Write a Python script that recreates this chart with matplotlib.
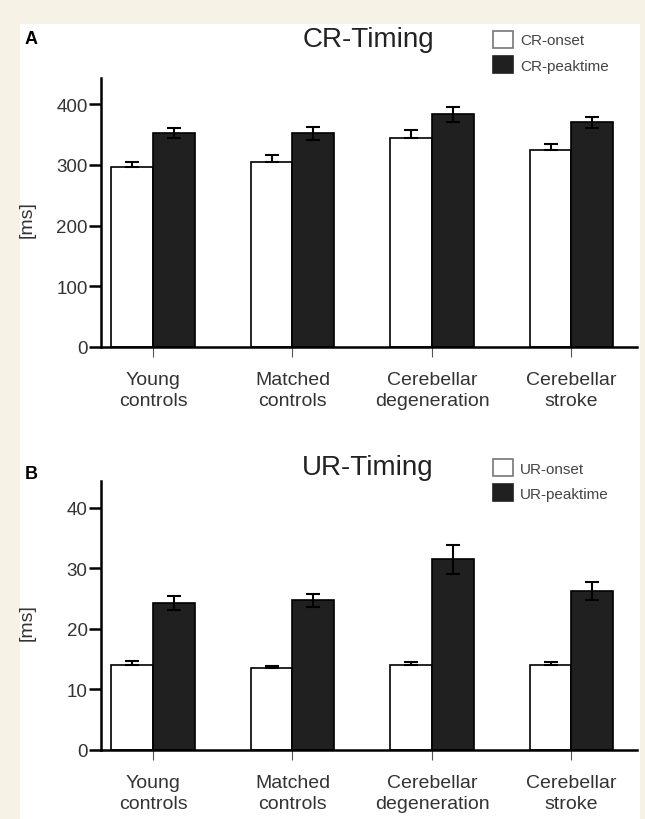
import numpy as np
import matplotlib
matplotlib.use("Agg")
import matplotlib.pyplot as plt
from matplotlib.patches import Patch, Rectangle

plt.rcParams['font.family'] = ['Liberation Sans', 'DejaVu Sans']

# --- dados ---
grupos = ["Young\ncontrols", "Matched\ncontrols", "Cerebellar\ndegeneration", "Cerebellar\nstroke"]

cr_onset = [297, 304, 344, 325]
cr_onset_err = [8, 12, 13, 9]
cr_peak = [353, 352, 383, 370]
cr_peak_err = [8, 11, 12, 9]

ur_onset = [14.1, 13.5, 14.0, 14.0]
ur_onset_err = [0.6, 0.3, 0.5, 0.5]
ur_peak = [24.3, 24.7, 31.5, 26.2]
ur_peak_err = [1.2, 1.1, 2.4, 1.5]

cr_ticks = [0, 100, 200, 300, 400]
ur_ticks = [0, 10, 20, 30, 40]

FUNDO = '#f6f2e5'
PRETO_BARRA = '#202020'
TEXTO = '#333333'
W, H = 645, 820


def painel(ax, onset, onset_err, peak, peak_err, ticks, ymax, titulo, titulo_y, nomes_leg, leg_y):
    x = np.arange(len(grupos))
    w = 0.30
    ax.bar(x - w / 2, onset, w, color='white', edgecolor='black', linewidth=1.2, zorder=2)
    ax.bar(x + w / 2, peak, w, color=PRETO_BARRA, edgecolor='black', linewidth=1.2, zorder=2)
    # erro apenas para cima nas barras brancas
    ax.errorbar(x - w / 2, onset, yerr=[np.zeros(len(onset)), onset_err], fmt='none',
                ecolor='black', elinewidth=1.5, capsize=5, capthick=1.5, zorder=3)
    ax.errorbar(x + w / 2, peak, yerr=peak_err, fmt='none',
                ecolor='black', elinewidth=1.5, capsize=5, capthick=1.5, zorder=3)

    ax.set_xlim(-0.373, 3.47)
    ax.set_ylim(0, ymax)
    ax.set_yticks(ticks)
    ax.set_xticks(x)
    ax.set_xticklabels(grupos, fontsize=14, color=TEXTO, linespacing=1.3)
    ax.tick_params(axis='y', labelsize=13.5, labelcolor=TEXTO, length=8.6, width=1.8, pad=1)
    ax.tick_params(axis='x', length=7.2, width=0.8, color='#555555', pad=10)
    for s in ['top', 'right']:
        ax.spines[s].set_visible(False)
    for s in ['left', 'bottom']:
        ax.spines[s].set_linewidth(1.8)
    ax.set_facecolor('none')
    ax.set_ylabel('[ms]', fontsize=14, color=TEXTO)
    ax.yaxis.set_label_coords(-0.122, 0.478)

    fig.text(368 / W, 1 - titulo_y / H, titulo, ha='center', va='center',
             fontsize=20, color='#222222')

    handles = [Patch(facecolor='white', edgecolor='#777777', linewidth=1.2),
               Patch(facecolor=PRETO_BARRA, edgecolor=PRETO_BARRA, linewidth=1.2)]
    leg = ax.legend(handles, nomes_leg, loc='upper left',
                    bbox_to_anchor=(492.7 / W, 1 - leg_y / H), bbox_transform=fig.transFigure,
                    frameon=False, fontsize=11, handlelength=1.35, handleheight=1.34,
                    handletextpad=0.44, labelspacing=0.54, borderpad=0, borderaxespad=0)
    for t in leg.get_texts():
        t.set_color('#444444')


fig = plt.figure(figsize=(W / 100, H / 100), dpi=100, facecolor=FUNDO)
fig.add_artist(Rectangle((20 / W, 0), 620 / W, (H - 25) / H, transform=fig.transFigure,
                         facecolor='white', edgecolor='none', zorder=0))

ax_a = fig.add_axes([101 / W, 1 - 348 / H, 536 / W, 269 / H])
ax_b = fig.add_axes([101 / W, 1 - 751 / H, 536 / W, 269 / H])

painel(ax_a, cr_onset, cr_onset_err, cr_peak, cr_peak_err, cr_ticks, 443,
       'CR-Timing', 40, ['CR-onset', 'CR-peaktime'], 31.7)
painel(ax_b, ur_onset, ur_onset_err, ur_peak, ur_peak_err, ur_ticks, 44.4,
       'UR-Timing', 468, ['UR-onset', 'UR-peaktime'], 460)

fig.text(25 / W, 1 - 39 / H, 'A', fontsize=13, fontweight='bold', va='center', ha='left')
fig.text(25 / W, 1 - 475 / H, 'B', fontsize=13, fontweight='bold', va='center', ha='left')

fig.savefig('out.png', dpi=100, facecolor=FUNDO)
